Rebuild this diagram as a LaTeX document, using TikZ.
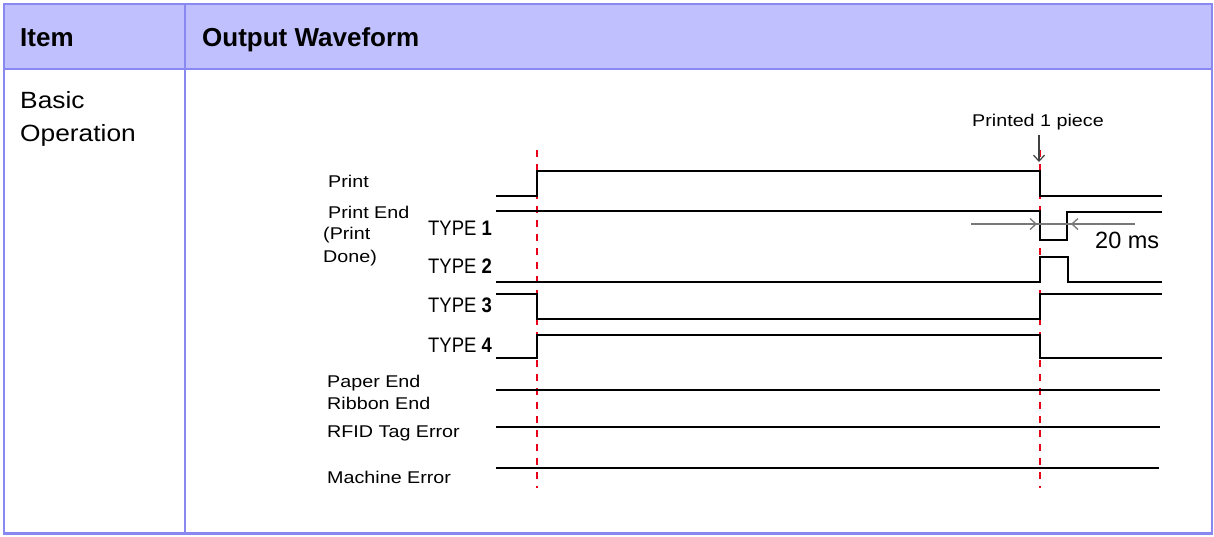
\documentclass[tikz,border=0pt]{standalone}
\usepackage{fontspec}
\setmainfont{Liberation Sans}
\newfontfamily\wavefont[FakeStretch=1.16]{Liberation Sans}
\newfontfamily\cellfont[FakeStretch=1.12]{Liberation Sans}
\newfontfamily\typefont[FakeStretch=0.88]{Liberation Sans}
\usetikzlibrary{arrows.meta}
\definecolor{hdrfill}{RGB}{192,192,255}
\definecolor{rulecol}{RGB}{136,136,240}
\definecolor{cuered}{RGB}{232,0,24}
\definecolor{dimgray}{RGB}{120,120,120}
\tikzset{
  hdr/.style={anchor=base west, inner sep=0pt, font=\bfseries\fontsize{26}{26}\selectfont},
  cell/.style={anchor=base west, inner sep=0pt, align=left, font=\cellfont\fontsize{23.5}{33}\selectfont},
  lbl/.style={anchor=base west, inner sep=0pt, align=left, font=\wavefont\fontsize{17}{23}\selectfont},
  typelbl/.style={anchor=base west, inner sep=0pt, font=\typefont\fontsize{21}{21}\selectfont},
  sig/.style={line width=2.8pt, line join=miter},
  cue/.style={draw=cuered, line width=1.6pt, dash pattern=on 7pt off 7pt},
  gap/.style={draw=dimgray, line width=1.3pt},
  barb/.style={-{Straight Barb[length=6pt,width=11pt]}},
}
\begin{document}
\begin{tikzpicture}[x=1pt,y=-1pt]
  \useasboundingbox (0,0) rectangle (1214,536);
  \fill[hdrfill] (4,4) rectangle (1212,69);
  \draw[rulecol, line width=2.2pt] (4,4) rectangle (1212,533.5);
  \draw[rulecol, line width=2.6pt] (4,69) -- (1212,69);
  \draw[rulecol, line width=2.2pt] (185,4) -- (185,533.5);
  \node[hdr] (item) at (20,46) {Item};
  \node[hdr] (wave) at (202,46) {Output Waveform};
  \node[cell] (basic) at (20,141) {Basic\\Operation};
  \node[lbl] (print) at (328,187) {Print};
  \node[lbl] (printend) at (328,218) {Print End};
  \node[lbl] (done) at (323,262) {(Print\\Done)};
  \node[typelbl] (type1) at (428,235) {TYPE \textbf{1}};
  \node[typelbl] (type2) at (428,273) {TYPE \textbf{2}};
  \node[typelbl] (type3) at (428,312) {TYPE \textbf{3}};
  \node[typelbl] (type4) at (428,352) {TYPE \textbf{4}};
  \node[lbl, font=\wavefont\fontsize{17}{22}\selectfont] (paper) at (327,409) {Paper End\\Ribbon End};
  \node[lbl] (rfid) at (327,437) {RFID Tag Error};
  \node[lbl] (machine) at (327,483) {Machine Error};
  \node[lbl, anchor=base] (printed) at (1038,126) {Printed 1 piece};
  \node[anchor=base west, inner sep=0pt, font=\fontsize{23.5}{23.5}\selectfont] (ms) at (1095,248) {20 ms};
  \draw[cue] (537,150) -- (537,488);
  \draw[cue] (1040,150) -- (1040,488);
  \draw[sig] (496,196) -- (537,196) -- (537,171) -- (1040,171) -- (1040,196) -- (1162,196);
  \draw[sig] (496,211) -- (1040,211) -- (1040,240) -- (1067,240) -- (1067,212) -- (1162,212);
  \draw[sig] (496,282) -- (1040,282) -- (1040,257) -- (1068,257) -- (1068,282) -- (1162,282);
  \draw[sig] (496,294) -- (537,294) -- (537,319) -- (1040,319) -- (1040,294) -- (1162,294);
  \draw[sig] (496,358) -- (537,358) -- (537,335) -- (1040,335) -- (1040,358) -- (1162,358);
  \draw[sig] (496,390) -- (1160,390);
  \draw[sig] (496,427) -- (1160,427);
  \draw[sig] (496,468) -- (1159,468);
  \coordinate (drop) at (1039,162);
  \draw[draw=black!75, line width=1.2pt, barb] ([xshift=1pt,yshift=-5pt]printed.south) -- (drop);
  \coordinate (gapl) at (971,224);
  \coordinate (gapr) at (1135,224);
  \coordinate (tipl) at (1037,224);
  \coordinate (tipr) at (1071,224);
  \draw[gap] (gapl) -- (gapr);
  \draw[gap, barb] (gapl) -- (tipl);
  \draw[gap, barb] (gapr) -- (tipr);
\end{tikzpicture}
\end{document}
